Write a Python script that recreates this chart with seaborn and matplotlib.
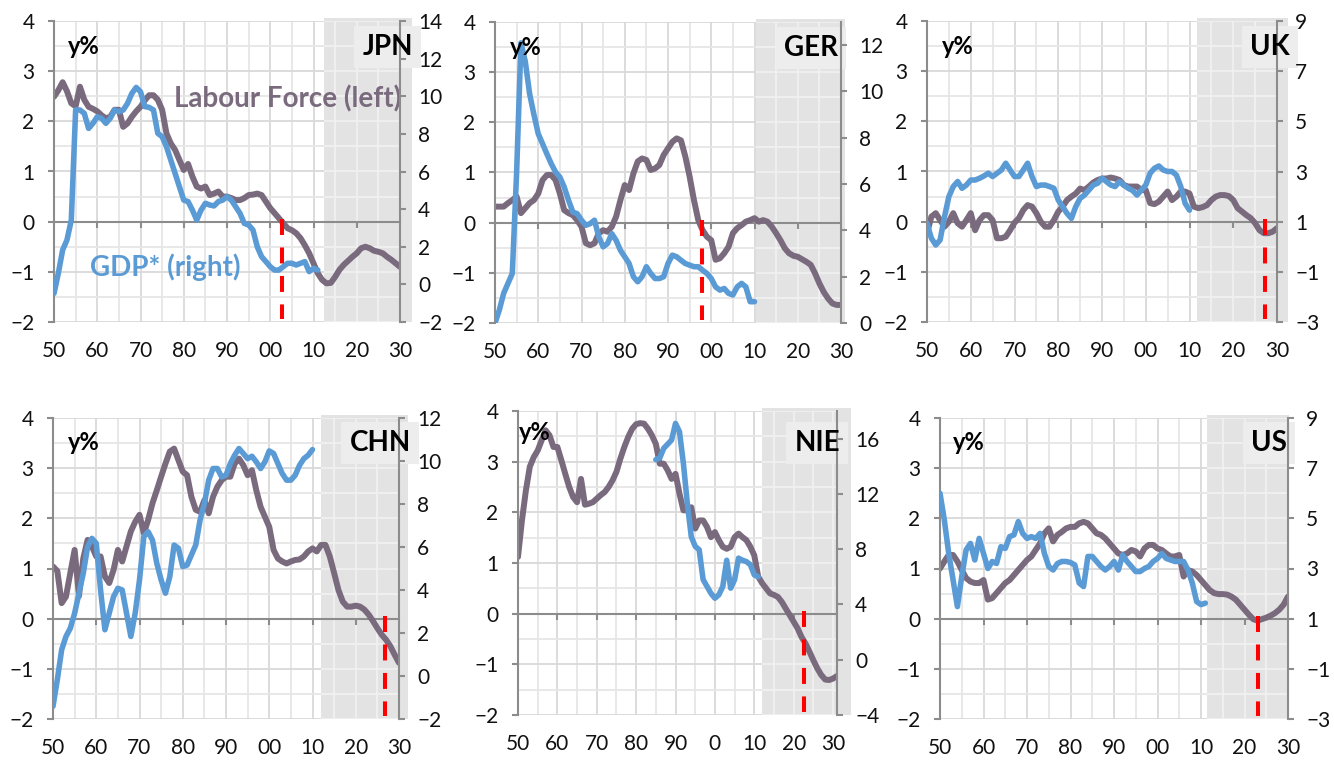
import numpy as np
import matplotlib
matplotlib.use("Agg")
import matplotlib.pyplot as plt
import matplotlib.transforms as mtransforms
from matplotlib.patches import Rectangle
from matplotlib.ticker import FixedLocator, NullFormatter
import seaborn as sns

# ---------------------------------------------------------------- data
countries = ["JPN", "GER", "UK", "CHN", "NIE", "US"]

# Labour force growth, y% (left axis)
jpn_lf = [2.49, 2.62, 2.78, 2.60, 2.36, 2.30, 2.69, 2.43, 2.29, 2.25,
          2.20, 2.12, 2.06, 2.09, 2.23, 2.23, 1.89, 1.96, 2.09, 2.20,
          2.29, 2.42, 2.52, 2.52, 2.43, 2.23, 1.76, 1.56, 1.43, 1.23,
          1.03, 1.15, 0.90, 0.70, 0.66, 0.70, 0.53, 0.56, 0.60, 0.50,
          0.50, 0.47, 0.43, 0.43, 0.47, 0.53, 0.54, 0.56, 0.53, 0.40,
          0.27, 0.17, 0.07, -0.03, -0.13, -0.17, -0.23, -0.33, -0.47, -0.63,
          -0.83, -1.03, -1.16, -1.23, -1.22, -1.10, -0.96, -0.86, -0.78, -0.70,
          -0.63, -0.53, -0.50, -0.53, -0.58, -0.60, -0.63, -0.70, -0.76, -0.83,
          -0.90]
ger_lf = [0.32, 0.32, 0.32, 0.39, 0.45, 0.52, 0.19, 0.29, 0.39, 0.45,
          0.58, 0.85, 0.95, 0.95, 0.85, 0.58, 0.25, 0.19, 0.15, 0.05,
          -0.08, -0.41, -0.45, -0.41, -0.21, -0.15, -0.18, -0.08, 0.12, 0.45,
          0.75, 0.65, 0.98, 1.22, 1.28, 1.25, 1.05, 1.08, 1.15, 1.35,
          1.48, 1.61, 1.68, 1.64, 1.32, 0.92, 0.45, 0.05, -0.15, -0.28,
          -0.35, -0.74, -0.71, -0.61, -0.48, -0.21, -0.11, -0.05, 0.02, 0.05,
          0.09, 0.02, 0.05, 0.02, -0.08, -0.21, -0.35, -0.51, -0.61, -0.66,
          -0.68, -0.73, -0.78, -0.84, -1.01, -1.21, -1.38, -1.51, -1.61, -1.64,
          -1.64]
uk_lf = [-0.23, 0.10, 0.17, 0.03, -0.10, 0.00, 0.17, -0.03, -0.10, 0.03,
         0.17, -0.17, 0.03, 0.13, 0.13, 0.03, -0.33, -0.33, -0.30, -0.17,
         -0.02, 0.07, 0.23, 0.33, 0.30, 0.17, 0.00, -0.10, -0.10, 0.03,
         0.20, 0.30, 0.43, 0.50, 0.56, 0.66, 0.63, 0.70, 0.78, 0.83,
         0.86, 0.86, 0.88, 0.86, 0.83, 0.73, 0.70, 0.70, 0.70, 0.63,
         0.63, 0.37, 0.35, 0.40, 0.50, 0.60, 0.43, 0.50, 0.60, 0.60,
         0.56, 0.30, 0.27, 0.29, 0.33, 0.43, 0.50, 0.53, 0.53, 0.51,
         0.43, 0.27, 0.20, 0.13, 0.07, -0.03, -0.17, -0.23, -0.23, -0.20,
         -0.13]
chn_lf = [1.04, 0.95, 0.31, 0.44, 0.91, 1.37, 0.45, 1.20, 1.57, 1.44,
          1.24, 1.24, 0.84, 0.71, 0.97, 1.37, 1.14, 1.44, 1.74, 1.93,
          2.07, 1.70, 1.97, 2.30, 2.56, 2.83, 3.09, 3.33, 3.39, 3.16,
          2.93, 2.86, 2.43, 2.17, 2.13, 2.36, 2.10, 2.43, 2.63, 2.76,
          2.83, 2.83, 3.09, 3.19, 3.06, 2.86, 2.96, 2.56, 2.23, 2.03,
          1.83, 1.37, 1.20, 1.14, 1.10, 1.14, 1.17, 1.18, 1.24, 1.34,
          1.40, 1.34, 1.47, 1.47, 1.24, 0.91, 0.57, 0.34, 0.24, 0.24,
          0.26, 0.24, 0.18, 0.08, -0.05, -0.19, -0.32, -0.42, -0.55, -0.72,
          -0.88]
nie_lf = [1.12, 1.84, 2.43, 2.90, 3.09, 3.22, 3.42, 3.62, 3.52, 3.29,
          3.29, 3.03, 2.76, 2.50, 2.30, 2.20, 2.66, 2.15, 2.17, 2.20,
          2.27, 2.34, 2.40, 2.50, 2.63, 2.80, 3.06, 3.29, 3.49, 3.65,
          3.74, 3.76, 3.75, 3.65, 3.52, 3.35, 2.96, 2.96, 2.83, 2.66,
          2.76, 2.37, 2.04, 2.04, 2.10, 1.68, 1.84, 1.84, 1.71, 1.51,
          1.61, 1.45, 1.32, 1.28, 1.32, 1.51, 1.58, 1.51, 1.45, 1.32,
          1.15, 0.73, 0.60, 0.50, 0.40, 0.37, 0.33, 0.23, 0.10, -0.03,
          -0.16, -0.29, -0.46, -0.59, -0.75, -0.92, -1.08, -1.21, -1.30, -1.31,
          -1.28, -1.23]
us_lf = [1.00, 1.14, 1.27, 1.27, 1.14, 0.97, 0.81, 0.74, 0.71, 0.71,
         0.77, 0.38, 0.41, 0.51, 0.61, 0.71, 0.77, 0.87, 0.97, 1.07,
         1.17, 1.24, 1.37, 1.50, 1.70, 1.80, 1.54, 1.67, 1.73, 1.80,
         1.83, 1.83, 1.90, 1.93, 1.90, 1.80, 1.70, 1.67, 1.60, 1.50,
         1.40, 1.30, 1.27, 1.30, 1.37, 1.34, 1.24, 1.40, 1.47, 1.47,
         1.40, 1.37, 1.30, 1.24, 1.24, 1.27, 0.84, 0.97, 0.94, 0.87,
         0.77, 0.67, 0.57, 0.51, 0.49, 0.49, 0.48, 0.44, 0.38, 0.28,
         0.18, 0.08, -0.01, -0.04, -0.01, 0.02, 0.06, 0.11, 0.18, 0.28,
         0.44]

# GDP* growth, y% (right axis)
jpn_gdp = [-0.48, 0.59, 1.83, 2.36, 3.42, 9.27, 9.27, 9.09, 8.29, 8.56,
           8.91, 8.83, 8.56, 8.83, 9.27, 9.18, 9.27, 9.62, 10.15, 10.47,
           10.24, 9.45, 9.41, 9.27, 8.03, 7.85, 7.32, 6.61, 5.90, 5.19,
           4.48, 4.40, 3.95, 3.42, 3.95, 4.31, 4.22, 4.17, 4.40, 4.48,
           4.66, 4.48, 4.13, 3.78, 3.24, 3.16, 2.89, 2.00, 1.47, 1.21,
           0.94, 0.76, 0.76, 0.94, 1.12, 1.12, 1.03, 1.12, 1.21, 0.68,
           0.85, 0.76]
ger_gdp = [0.00, 0.56, 1.28, 1.71, 2.14, 6.50, 12.10, 11.30, 9.90, 9.00,
           8.17, 7.74, 7.30, 6.88, 6.52, 6.30, 5.87, 5.30, 4.79, 4.72,
           4.44, 4.22, 4.29, 4.44, 3.72, 3.29, 3.43, 3.86, 3.57, 3.14,
           2.86, 2.57, 2.00, 1.78, 2.00, 2.43, 2.14, 1.92, 1.92, 2.00,
           2.57, 2.93, 2.86, 2.71, 2.57, 2.50, 2.43, 2.43, 2.28, 2.14,
           1.92, 1.56, 1.42, 1.49, 1.28, 1.21, 1.56, 1.71, 1.56, 0.92,
           0.92]
uk_gdp = [0.93, 0.34, 0.07, 0.27, 1.20, 2.00, 2.40, 2.60, 2.33, 2.46,
          2.66, 2.66, 2.73, 2.82, 2.93, 2.80, 2.93, 3.06, 3.33, 3.06,
          2.80, 2.80, 3.06, 3.33, 2.80, 2.40, 2.46, 2.46, 2.40, 2.33,
          1.86, 1.60, 1.33, 1.13, 1.60, 1.93, 2.06, 2.26, 2.46, 2.53,
          2.73, 2.60, 2.46, 2.40, 2.60, 2.46, 2.33, 2.24, 2.06, 2.26,
          2.46, 2.93, 3.13, 3.22, 3.06, 3.00, 3.00, 2.86, 2.40, 1.73,
          1.46]
chn_gdp = [-1.41, -0.17, 1.22, 1.84, 2.22, 2.92, 3.85, 4.78, 6.01, 6.40,
           6.17, 4.00, 2.15, 2.92, 3.69, 4.08, 4.00, 2.92, 1.84, 2.92,
           4.47, 6.48, 6.71, 6.32, 5.24, 4.47, 3.85, 4.62, 6.09, 5.94,
           5.09, 5.16, 5.63, 6.09, 7.25, 8.02, 9.11, 9.65, 9.65, 9.26,
           9.34, 9.88, 10.27, 10.58, 10.35, 10.11, 10.22, 9.96, 9.65, 9.96,
           10.47, 10.35, 9.88, 9.42, 9.11, 9.11, 9.34, 9.80, 10.11, 10.27,
           10.53]
nie_gdp = [14.48, 14.60, 15.30, 15.60, 15.90, 17.10, 16.50, 14.20, 11.30, 8.90,
           8.20, 7.96, 5.80, 5.30, 4.80, 4.45, 4.70, 5.30, 7.20, 5.18,
           5.80, 7.35, 7.20, 7.10, 6.87, 6.14, 6.00]
us_gdp = [6.00, 4.93, 3.60, 2.55, 1.48, 2.68, 3.74, 4.00, 3.34, 4.20,
          3.60, 3.00, 3.28, 3.20, 3.87, 3.80, 4.27, 4.34, 4.87, 4.40,
          4.20, 4.27, 4.20, 4.40, 3.60, 3.08, 2.94, 3.20, 3.28, 3.28,
          3.24, 3.14, 2.42, 2.28, 3.48, 3.48, 3.28, 3.08, 2.94, 3.08,
          3.28, 2.94, 3.54, 3.28, 3.08, 2.88, 2.88, 3.00, 3.08, 3.28,
          3.40, 3.60, 3.40, 3.34, 3.28, 3.28, 3.28, 2.94, 2.42, 1.68,
          1.56, 1.62]

lf_series = [jpn_lf, ger_lf, uk_lf, chn_lf, nie_lf, us_lf]
gdp_series = [jpn_gdp, ger_gdp, uk_gdp, chn_gdp, nie_gdp, us_gdp]
lf_start = [1950, 1950, 1950, 1950, 1950, 1950]
gdp_start = [1950, 1950, 1950, 1950, 1985, 1950]

# year in which labour-force growth turns negative
turning_year = [2002.7, 1997.8, 2027.3, 2026.7, 2022.7, 2023.1]
# start of the projection period
forecast_start = [2012.4, 2010.3, 2011.7, 2012.0, 2012.0, 2011.4]

# axes ranges and tick labels
left_ticks = [-2, -1, 0, 1, 2, 3, 4]
right_limits = [(-2, 14), (0, 13), (-3, 9), (-2, 12), (-4, 18), (-3, 9)]
right_ticks = [list(range(-2, 15, 2)), list(range(0, 13, 2)), list(range(-3, 10, 2)),
               list(range(-2, 13, 2)), list(range(-4, 17, 4)), list(range(-3, 10, 2))]
decade_ticks = list(range(1950, 2031, 10))
decade_labels = ["50", "60", "70", "80", "90", "00", "10", "20", "30"]
nie_decade_labels = ["50", "60", "70", "80", "90", "0", "10", "20", "30"]

# ---------------------------------------------------------------- style
LF_COLOR = "#7a6a7d"
GDP_COLOR = "#5b9bd5"
AXIS_GRAY = "#8c8c8c"
GRID_MAJOR = "#d9d9d9"
GRID_MINOR = "#e6e6e6"
SHADE = "#e3e3e3"
SHADE_GRID = "#f1f1f1"
TEXT = "#111111"

sns.set_theme(style="white")
plt.rcParams["font.family"] = ["Lato", "DejaVu Sans"]
plt.rcParams["lines.scale_dashes"] = False

W, H = 1334, 763
fig = plt.figure(figsize=(W / 100, H / 100), dpi=100)
fig.patch.set_facecolor("white")

# panel frames in pixels: left, right, top, bottom
frames = [(54, 400, 21, 322), (495, 841, 22, 323), (927, 1277, 21, 322),
          (53, 399, 418, 719), (518, 837, 411, 715), (940, 1288, 418, 719)]
x_end = [2030, 2030, 2030, 2030, 2031, 2030]
shade_overhang = [12, 4, 11, 9, 14, 1]          # px past the right axis
name_offset = [(13, -26), (-3, -26), (13, -26), (12, -25), (3, -32), (-1, -25)]
unit_offset = [(14, -26), (15, -26), (15, -26), (15, -25), (1, -22), (13, -25)]

YLO, YHI = -2, 4

for i, country in enumerate(countries):
    l, r, t, b = frames[i]
    ax = fig.add_axes([l / W, 1 - b / H, (r - l) / W, (b - t) / H])
    ax2 = ax.twinx()
    ax.set_xlim(1950, x_end[i])
    ax.set_ylim(YLO, YHI)
    ax2.set_ylim(*right_limits[i])
    ax.set_facecolor("white")

    px_per_year = (r - l) / (x_end[i] - 1950)

    # projection period shading
    trans = mtransforms.blended_transform_factory(ax.transData, ax.transAxes)
    shade_x1 = x_end[i] + shade_overhang[i] / px_per_year
    ax.add_patch(Rectangle((forecast_start[i], 0), shade_x1 - forecast_start[i], 1.01,
                           transform=trans, facecolor=SHADE, edgecolor="none",
                           clip_on=False, zorder=0.2))

    # grid
    vgrid_major = np.arange(1960, x_end[i], 10)
    vgrid_minor = np.arange(1955, x_end[i], 10)
    hgrid_major = np.arange(YLO, YHI + 0.01, 1.0)
    hgrid_minor = np.arange(YLO + 0.5, YHI, 1.0)
    ax.set_xticks(decade_ticks)
    ax.set_xticklabels(nie_decade_labels if country == "NIE" else decade_labels)
    ax.xaxis.set_minor_locator(FixedLocator(vgrid_minor))
    ax.set_yticks(left_ticks)
    ax.yaxis.set_minor_locator(FixedLocator(hgrid_minor))
    ax.set_axisbelow(True)
    ax.grid(which="major", color=GRID_MAJOR, linewidth=1.3)
    ax.grid(which="minor", color=GRID_MINOR, linewidth=1.3)
    # lighter grid inside the shaded block
    fs = forecast_start[i]
    ax.vlines([v for v in np.concatenate([vgrid_major, vgrid_minor]) if v > fs],
              YLO, YHI, color=SHADE_GRID, linewidth=1.3, zorder=0.6)
    ax.hlines(np.concatenate([hgrid_major, hgrid_minor]), fs, x_end[i],
              color=SHADE_GRID, linewidth=1.3, zorder=0.6)

    # spines and ticks
    for side in ("top", "bottom", "right"):
        ax.spines[side].set_visible(False)
    ax.spines["left"].set_color(AXIS_GRAY)
    ax.spines["left"].set_linewidth(1.5)
    for side in ("top", "bottom", "left"):
        ax2.spines[side].set_visible(False)
    ax2.spines["right"].set_color(AXIS_GRAY)
    ax2.spines["right"].set_linewidth(1.5)

    ax.tick_params(axis="x", which="both", length=0, pad=14, labelsize=15,
                   labelcolor=TEXT, bottom=False, top=False)
    ax.tick_params(axis="y", which="major", length=4, width=1.5, color=AXIS_GRAY,
                   direction="out", pad=10, labelsize=15, labelcolor=TEXT, left=True)
    ax.tick_params(axis="y", which="minor", length=0)
    ax2.set_yticks(right_ticks[i])
    ax2.tick_params(axis="y", length=4, width=1.5, color=AXIS_GRAY, direction="out",
                    pad=9, labelsize=15, labelcolor=TEXT, right=True)

    # horizontal axis line through zero with decade ticks
    zero_axis = ax.secondary_xaxis((0 - YLO) / (YHI - YLO))
    zero_axis.set_zorder(1)
    zero_axis.set_xticks(list(range(1960, 2030, 10)))
    zero_axis.xaxis.set_major_formatter(NullFormatter())
    zero_axis.tick_params(length=4, width=1.5, color=AXIS_GRAY, direction="out")
    for sp in zero_axis.spines.values():
        sp.set_color(AXIS_GRAY)
        sp.set_linewidth(1.5)

    # series
    lf = lf_series[i]
    lf_years = np.arange(lf_start[i], lf_start[i] + len(lf))
    sns.lineplot(x=lf_years, y=lf, ax=ax, color=LF_COLOR, linewidth=4.3,
                 solid_capstyle="round", solid_joinstyle="round", zorder=2)
    gdp = gdp_series[i]
    gdp_years = np.arange(gdp_start[i], gdp_start[i] + len(gdp))
    sns.lineplot(x=gdp_years, y=gdp, ax=ax2, color=GDP_COLOR, linewidth=4.0,
                 solid_capstyle="round", solid_joinstyle="round", zorder=2)
    ax.set_xlim(1950, x_end[i])
    ax.set_xlabel("")
    ax.set_ylabel("")
    ax2.set_ylabel("")

    # turning point marker
    ax2.plot([turning_year[i], turning_year[i]], [0.05, -1.95], transform=ax.transData,
             color="#ff0000", linewidth=2.9, dashes=(11.5, 9),
             dash_capstyle="butt", zorder=4)

    # country label: light box underneath the axis, text above everything
    label_kw = dict(xy=(1, 1), xycoords="axes fraction", xytext=name_offset[i],
                    textcoords="offset pixels", ha="right", va="center",
                    fontsize=20, fontweight="bold", annotation_clip=False)
    ax.annotate(country, color=(0, 0, 0, 0), zorder=5,
                bbox=dict(boxstyle="square,pad=0.3", facecolor="#ededed", edgecolor="none"),
                **label_kw)
    ax2.annotate(country, color="black", zorder=6, **label_kw)
    ax2.annotate("y%", xy=(0, 1), xycoords="axes fraction",
                 xytext=unit_offset[i], textcoords="offset pixels",
                 ha="left", va="center", fontsize=17, fontweight="bold", color="black",
                 zorder=6)

    if country == "JPN":
        ax.text(1977.7, 2.45, "Labour Force (left)", color=LF_COLOR, fontsize=20,
                fontweight="bold", ha="left", va="center", zorder=5)
        ax.text(1958.3, -0.9, "GDP* (right)", color=GDP_COLOR, fontsize=20,
                fontweight="bold", ha="left", va="center", zorder=5)

fig.savefig("out.png", dpi=100, facecolor="white")
